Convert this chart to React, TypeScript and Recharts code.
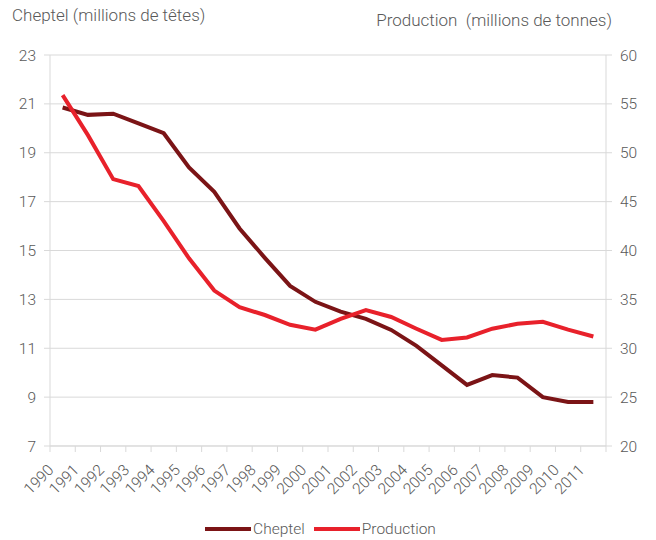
import React from 'react';
import {
  LineChart,
  Line,
  XAxis,
  YAxis,
  CartesianGrid,
  Legend,
} from 'recharts';

const years = [
  '1990', '1991', '1992', '1993', '1994', '1995', '1996', '1997', '1998', '1999', '2000',
  '2001', '2002', '2003', '2004', '2005', '2006', '2007', '2008', '2009', '2010', '2011',
];

// herd size, millions of head (left axis)
const cheptel = [
  20.85, 20.55, 20.6, 20.2, 19.8, 18.4, 17.4, 15.9, 14.7, 13.55, 12.9,
  12.5, 12.2, 11.75, 11.1, 10.3, 9.5, 9.9, 9.8, 9.0, 8.8, 8.8,
];

// milk output, millions of tonnes (right axis)
const production = [
  55.9, 51.8, 47.3, 46.6, 43.0, 39.2, 35.9, 34.2, 33.4, 32.4, 31.9,
  33.0, 33.9, 33.2, 32.0, 30.85, 31.1, 32.0, 32.5, 32.7, 31.9, 31.2,
];

const leftTicks = [7, 9, 11, 13, 15, 17, 19, 21, 23];
const rightTicks = [20, 25, 30, 35, 40, 45, 50, 55, 60];

const DARK = '#7b1416';
const RED = '#e8212b';
const GREY_TEXT = '#595959';
const GRID = '#d9d9d9';
const FONT = 'Roboto, "Liberation Sans", sans-serif';

// categories sit between integer positions so tick marks fall on the boundaries
const data = years.map((year, i) => ({
  pos: i + 0.5,
  year,
  cheptel: cheptel[i],
  production: production[i],
}));

const xTicks = Array.from({ length: years.length * 2 + 1 }, (_, i) => i / 2);

const YearTick = ({ x, y, payload }: any) => {
  const v = payload.value;
  if (Number.isInteger(v)) {
    return <line x1={x} x2={x} y1={y} y2={y + 6} stroke={GRID} strokeWidth={1} />;
  }
  const label = years[Math.floor(v)];
  const tx = x - 8;
  const ty = y + 25;
  return (
    <text
      x={tx}
      y={ty}
      textAnchor="end"
      fill={GREY_TEXT}
      fontSize={15.5}
      fontWeight={300}
      transform={`rotate(-45, ${tx}, ${ty})`}
    >
      {label}
    </text>
  );
};

const LegendContent = () => (
  <div
    style={{
      display: 'flex',
      justifyContent: 'center',
      alignItems: 'center',
      height: 22,
      paddingRight: 15,
      fontSize: 15.5,
      fontWeight: 300,
      color: GREY_TEXT,
      fontFamily: FONT,
    }}
  >
    <span style={{ width: 46, height: 4.5, background: DARK, display: 'inline-block' }} />
    <span style={{ marginLeft: 2 }}>Cheptel</span>
    <span style={{ width: 46, height: 4.5, background: RED, display: 'inline-block', marginLeft: 9 }} />
    <span style={{ marginLeft: 2 }}>Production</span>
  </div>
);

const App: React.FC = () => {
  return (
    <div
      style={{
        position: 'absolute',
        left: 0,
        top: 0,
        width: 656,
        height: 540,
        background: '#fff',
        fontFamily: FONT,
      }}
    >
      <div
        style={{
          position: 'absolute',
          left: 12,
          top: 5,
          fontSize: 17,
          fontWeight: 300,
          color: GREY_TEXT,
          whiteSpace: 'pre',
        }}
      >
        Cheptel (millions de têtes)
      </div>
      <div
        style={{
          position: 'absolute',
          right: 44,
          top: 10,
          fontSize: 17,
          fontWeight: 300,
          color: GREY_TEXT,
          whiteSpace: 'pre',
        }}
      >
        {'Production  (millions de tonnes)'}
      </div>
      <LineChart
        width={656}
        height={540}
        data={data}
        margin={{ top: 55, right: 0, bottom: 0, left: 0 }}
      >
        <CartesianGrid yAxisId="left" vertical={false} stroke={GRID} />
        <XAxis
          dataKey="pos"
          type="number"
          domain={[0, years.length]}
          ticks={xTicks}
          interval={0}
          tickLine={false}
          tickSize={0}
          tickMargin={0}
          stroke={GRID}
          height={72}
          tick={YearTick}
        />
        <YAxis
          yAxisId="left"
          domain={[7, 23]}
          ticks={leftTicks}
          interval={0}
          width={50}
          stroke={GRID}
          tickSize={6}
          tickMargin={8}
          tick={{ fill: GREY_TEXT, fontSize: 15.5, fontWeight: 300 }}
        />
        <YAxis
          yAxisId="right"
          orientation="right"
          domain={[20, 60]}
          ticks={rightTicks}
          interval={0}
          width={50}
          stroke={GRID}
          tickSize={6}
          tickMargin={8}
          tick={{ fill: GREY_TEXT, fontSize: 15.5, fontWeight: 300 }}
        />
        <Legend verticalAlign="bottom" content={<LegendContent />} />
        <Line
          yAxisId="left"
          type="linear"
          dataKey="cheptel"
          name="Cheptel"
          stroke={DARK}
          strokeWidth={4}
          dot={false}
          isAnimationActive={false}
        />
        <Line
          yAxisId="right"
          type="linear"
          dataKey="production"
          name="Production"
          stroke={RED}
          strokeWidth={4}
          dot={false}
          isAnimationActive={false}
        />
      </LineChart>
    </div>
  );
};

export default App;
